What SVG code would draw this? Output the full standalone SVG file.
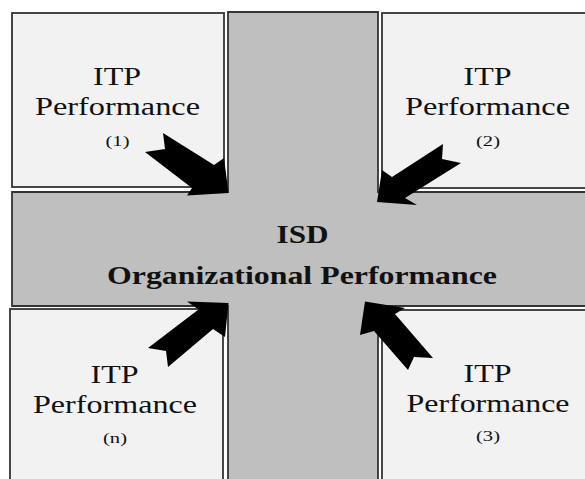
<svg xmlns="http://www.w3.org/2000/svg" width="585" height="479" viewBox="0 0 585 479">
<style>
.box{fill:#f2f2f2;stroke:#333;stroke-width:1.8}
.cross{fill:#bfbfbf;stroke:#333;stroke-width:1.8}
.arrow{fill:#000}
.t{font-family:"Liberation Serif","Times New Roman",serif;fill:#111;text-anchor:middle}
.big{font-size:26px}
.small{font-size:15px}
.bold{font-size:25px;font-weight:bold}
</style>
<rect width="585" height="479" fill="#fff"/>
<g id="isd">
<path class="cross" d="M228,12 H378 V192 H592 V306 H378 V486 H228 V306 H12 V192 H228 Z"/>
</g>
<g id="itp1">
<rect class="box" x="12" y="13" width="212" height="174"/>
<text class="t big" x="117" y="85" textLength="48" lengthAdjust="spacingAndGlyphs">ITP</text>
<text class="t big" x="117.5" y="114.5" textLength="165" lengthAdjust="spacingAndGlyphs">Performance</text>
<text class="t small" x="117.5" y="146" textLength="24" lengthAdjust="spacingAndGlyphs">(1)</text>
</g>
<g id="itp2">
<rect class="box" x="382" y="13" width="220" height="175"/>
<text class="t big" x="487.5" y="85" textLength="48" lengthAdjust="spacingAndGlyphs">ITP</text>
<text class="t big" x="487.5" y="114.5" textLength="165" lengthAdjust="spacingAndGlyphs">Performance</text>
<text class="t small" x="488" y="146" textLength="24" lengthAdjust="spacingAndGlyphs">(2)</text>
</g>
<g id="itpn">
<rect class="box" x="10" y="309" width="213" height="180"/>
<text class="t big" x="114.5" y="382.5" textLength="48" lengthAdjust="spacingAndGlyphs">ITP</text>
<text class="t big" x="115" y="412.5" textLength="164" lengthAdjust="spacingAndGlyphs">Performance</text>
<text class="t small" x="115" y="443" textLength="24" lengthAdjust="spacingAndGlyphs">(n)</text>
</g>
<g id="itp3">
<rect class="box" x="382" y="310" width="220" height="180"/>
<text class="t big" x="487.5" y="382" textLength="48" lengthAdjust="spacingAndGlyphs">ITP</text>
<text class="t big" x="488" y="411.5" textLength="163" lengthAdjust="spacingAndGlyphs">Performance</text>
<text class="t small" x="488" y="441" textLength="24" lengthAdjust="spacingAndGlyphs">(3)</text>
</g>
<g id="connectors">
<polygon class="arrow" points="163,133 214,165 224,158 228.5,193 187,195.5 192,188 145,152 165,149"/>
<polygon class="arrow" points="443,144 392,177 382,170 377,202 417,205 405,198 461,163 442,159"/>
<polygon class="arrow" points="148,348 198.5,309.5 187,301.5 228.5,303 225,337 213,329 168,367 166,351"/>
<polygon class="arrow" points="408,370 374,331 360,335 365,301.5 405,308 395,314 433,358 414,357"/>
</g>
<g id="isd-label">
<text class="t bold" x="302.5" y="243" textLength="52" lengthAdjust="spacingAndGlyphs">ISD</text>
<text class="t bold" x="302" y="283.5" textLength="390" lengthAdjust="spacingAndGlyphs">Organizational Performance</text>
</g>
</svg>
